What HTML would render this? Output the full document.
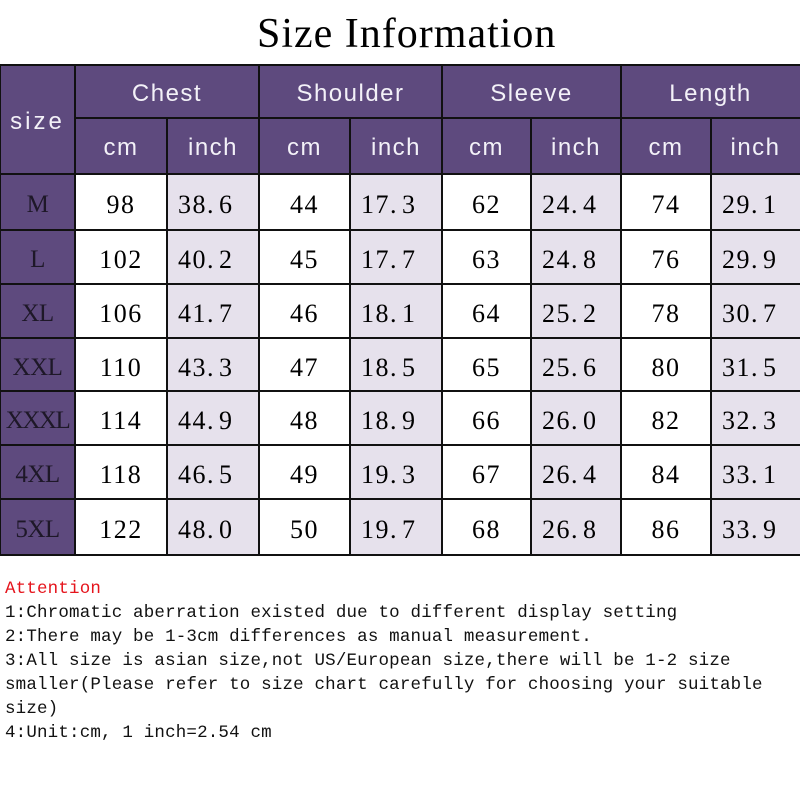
<!DOCTYPE html>
<html><head><meta charset="utf-8">
<style>
*{margin:0;padding:0;box-sizing:border-box}
html,body{width:800px;height:800px;background:#fff;overflow:hidden}
body{position:relative}
.c{position:absolute;display:flex;align-items:center}
.h{background:#5e4a7e;color:#f3f1f8;font-family:"Liberation Sans",sans-serif;font-size:24px;letter-spacing:1.5px;justify-content:center}
.s{background:#5e4a7e;color:#1e1828;font-family:"Liberation Serif",serif;font-size:25px;justify-content:center;letter-spacing:-0.5px}
.w{background:#fff;color:#000;font-family:"Liberation Serif",serif;font-size:26px;letter-spacing:1.5px;justify-content:center}
.g{background:#e6e1ec;color:#000;font-family:"Liberation Serif",serif;font-size:26px;letter-spacing:1.5px;justify-content:flex-start;padding-left:11px}
.c span.t{position:relative;top:3px}
.h span.t{top:2px}
.p{margin-right:4px}
.lh{position:absolute;height:2px;background:#111}
.lv{position:absolute;width:2px;background:#111}
.title{position:absolute;left:257px;top:9px;font-family:"Liberation Serif",serif;font-size:42px;line-height:50px;letter-spacing:1px;color:#000;white-space:nowrap}
.notes{position:absolute;left:5px;top:577px;font-family:"Liberation Mono",monospace;font-size:17.5px;line-height:24px;letter-spacing:0.17px;color:#111;white-space:pre}
.notes .r{color:#e5141c}
</style></head><body>
<div class="title">Size Information</div>

<!-- header -->
<div class="c h" style="left:0;top:65px;width:75px;height:109px"><span class="t" style="letter-spacing:3px">size</span></div>
<div class="c h" style="left:75px;top:65px;width:184px;height:53px"><span class="t">Chest</span></div>
<div class="c h" style="left:259px;top:65px;width:183px;height:53px"><span class="t">Shoulder</span></div>
<div class="c h" style="left:442px;top:65px;width:179px;height:53px"><span class="t">Sleeve</span></div>
<div class="c h" style="left:621px;top:65px;width:179px;height:53px"><span class="t">Length</span></div>

<div class="c h" style="left:75px;top:118px;width:92px;height:56px"><span class="t">cm</span></div>
<div class="c h" style="left:167px;top:118px;width:92px;height:56px"><span class="t">inch</span></div>
<div class="c h" style="left:259px;top:118px;width:91px;height:56px"><span class="t">cm</span></div>
<div class="c h" style="left:350px;top:118px;width:92px;height:56px"><span class="t">inch</span></div>
<div class="c h" style="left:442px;top:118px;width:89px;height:56px"><span class="t">cm</span></div>
<div class="c h" style="left:531px;top:118px;width:90px;height:56px"><span class="t">inch</span></div>
<div class="c h" style="left:621px;top:118px;width:90px;height:56px"><span class="t">cm</span></div>
<div class="c h" style="left:711px;top:118px;width:89px;height:56px"><span class="t">inch</span></div>

<!-- rows -->
<!-- M -->
<div class="c s" style="left:0;top:174px;width:75px;height:56px"><span class="t">M</span></div>
<div class="c w" style="left:75px;top:174px;width:92px;height:56px"><span class="t">98</span></div>
<div class="c g" style="left:167px;top:174px;width:92px;height:56px"><span class="t">38<span class="p">.</span>6</span></div>
<div class="c w" style="left:259px;top:174px;width:91px;height:56px"><span class="t">44</span></div>
<div class="c g" style="left:350px;top:174px;width:92px;height:56px"><span class="t">17<span class="p">.</span>3</span></div>
<div class="c w" style="left:442px;top:174px;width:89px;height:56px"><span class="t">62</span></div>
<div class="c g" style="left:531px;top:174px;width:90px;height:56px"><span class="t">24<span class="p">.</span>4</span></div>
<div class="c w" style="left:621px;top:174px;width:90px;height:56px"><span class="t">74</span></div>
<div class="c g" style="left:711px;top:174px;width:89px;height:56px"><span class="t">29<span class="p">.</span>1</span></div>
<!-- L -->
<div class="c s" style="left:0;top:230px;width:75px;height:54px"><span class="t">L</span></div>
<div class="c w" style="left:75px;top:230px;width:92px;height:54px"><span class="t">102</span></div>
<div class="c g" style="left:167px;top:230px;width:92px;height:54px"><span class="t">40<span class="p">.</span>2</span></div>
<div class="c w" style="left:259px;top:230px;width:91px;height:54px"><span class="t">45</span></div>
<div class="c g" style="left:350px;top:230px;width:92px;height:54px"><span class="t">17<span class="p">.</span>7</span></div>
<div class="c w" style="left:442px;top:230px;width:89px;height:54px"><span class="t">63</span></div>
<div class="c g" style="left:531px;top:230px;width:90px;height:54px"><span class="t">24<span class="p">.</span>8</span></div>
<div class="c w" style="left:621px;top:230px;width:90px;height:54px"><span class="t">76</span></div>
<div class="c g" style="left:711px;top:230px;width:89px;height:54px"><span class="t">29<span class="p">.</span>9</span></div>
<!-- XL -->
<div class="c s" style="left:0;top:284px;width:75px;height:54px"><span class="t">XL</span></div>
<div class="c w" style="left:75px;top:284px;width:92px;height:54px"><span class="t">106</span></div>
<div class="c g" style="left:167px;top:284px;width:92px;height:54px"><span class="t">41<span class="p">.</span>7</span></div>
<div class="c w" style="left:259px;top:284px;width:91px;height:54px"><span class="t">46</span></div>
<div class="c g" style="left:350px;top:284px;width:92px;height:54px"><span class="t">18<span class="p">.</span>1</span></div>
<div class="c w" style="left:442px;top:284px;width:89px;height:54px"><span class="t">64</span></div>
<div class="c g" style="left:531px;top:284px;width:90px;height:54px"><span class="t">25<span class="p">.</span>2</span></div>
<div class="c w" style="left:621px;top:284px;width:90px;height:54px"><span class="t">78</span></div>
<div class="c g" style="left:711px;top:284px;width:89px;height:54px"><span class="t">30<span class="p">.</span>7</span></div>
<!-- XXL -->
<div class="c s" style="left:0;top:338px;width:75px;height:53px"><span class="t">XXL</span></div>
<div class="c w" style="left:75px;top:338px;width:92px;height:53px"><span class="t">110</span></div>
<div class="c g" style="left:167px;top:338px;width:92px;height:53px"><span class="t">43<span class="p">.</span>3</span></div>
<div class="c w" style="left:259px;top:338px;width:91px;height:53px"><span class="t">47</span></div>
<div class="c g" style="left:350px;top:338px;width:92px;height:53px"><span class="t">18<span class="p">.</span>5</span></div>
<div class="c w" style="left:442px;top:338px;width:89px;height:53px"><span class="t">65</span></div>
<div class="c g" style="left:531px;top:338px;width:90px;height:53px"><span class="t">25<span class="p">.</span>6</span></div>
<div class="c w" style="left:621px;top:338px;width:90px;height:53px"><span class="t">80</span></div>
<div class="c g" style="left:711px;top:338px;width:89px;height:53px"><span class="t">31<span class="p">.</span>5</span></div>
<!-- XXXL -->
<div class="c s" style="left:0;top:391px;width:75px;height:54px"><span class="t" style="letter-spacing:-1.5px">XXXL</span></div>
<div class="c w" style="left:75px;top:391px;width:92px;height:54px"><span class="t">114</span></div>
<div class="c g" style="left:167px;top:391px;width:92px;height:54px"><span class="t">44<span class="p">.</span>9</span></div>
<div class="c w" style="left:259px;top:391px;width:91px;height:54px"><span class="t">48</span></div>
<div class="c g" style="left:350px;top:391px;width:92px;height:54px"><span class="t">18<span class="p">.</span>9</span></div>
<div class="c w" style="left:442px;top:391px;width:89px;height:54px"><span class="t">66</span></div>
<div class="c g" style="left:531px;top:391px;width:90px;height:54px"><span class="t">26<span class="p">.</span>0</span></div>
<div class="c w" style="left:621px;top:391px;width:90px;height:54px"><span class="t">82</span></div>
<div class="c g" style="left:711px;top:391px;width:89px;height:54px"><span class="t">32<span class="p">.</span>3</span></div>
<!-- 4XL -->
<div class="c s" style="left:0;top:445px;width:75px;height:54px"><span class="t">4XL</span></div>
<div class="c w" style="left:75px;top:445px;width:92px;height:54px"><span class="t">118</span></div>
<div class="c g" style="left:167px;top:445px;width:92px;height:54px"><span class="t">46<span class="p">.</span>5</span></div>
<div class="c w" style="left:259px;top:445px;width:91px;height:54px"><span class="t">49</span></div>
<div class="c g" style="left:350px;top:445px;width:92px;height:54px"><span class="t">19<span class="p">.</span>3</span></div>
<div class="c w" style="left:442px;top:445px;width:89px;height:54px"><span class="t">67</span></div>
<div class="c g" style="left:531px;top:445px;width:90px;height:54px"><span class="t">26<span class="p">.</span>4</span></div>
<div class="c w" style="left:621px;top:445px;width:90px;height:54px"><span class="t">84</span></div>
<div class="c g" style="left:711px;top:445px;width:89px;height:54px"><span class="t">33<span class="p">.</span>1</span></div>
<!-- 5XL -->
<div class="c s" style="left:0;top:499px;width:75px;height:56px"><span class="t">5XL</span></div>
<div class="c w" style="left:75px;top:499px;width:92px;height:56px"><span class="t">122</span></div>
<div class="c g" style="left:167px;top:499px;width:92px;height:56px"><span class="t">48<span class="p">.</span>0</span></div>
<div class="c w" style="left:259px;top:499px;width:91px;height:56px"><span class="t">50</span></div>
<div class="c g" style="left:350px;top:499px;width:92px;height:56px"><span class="t">19<span class="p">.</span>7</span></div>
<div class="c w" style="left:442px;top:499px;width:89px;height:56px"><span class="t">68</span></div>
<div class="c g" style="left:531px;top:499px;width:90px;height:56px"><span class="t">26<span class="p">.</span>8</span></div>
<div class="c w" style="left:621px;top:499px;width:90px;height:56px"><span class="t">86</span></div>
<div class="c g" style="left:711px;top:499px;width:89px;height:56px"><span class="t">33<span class="p">.</span>9</span></div>

<!-- grid lines -->
<div class="lh" style="left:0;width:800px;top:64px"></div>
<div class="lh" style="left:75px;width:725px;top:117px"></div>
<div class="lh" style="left:0;width:800px;top:173px"></div>
<div class="lh" style="left:0;width:800px;top:229px"></div>
<div class="lh" style="left:0;width:800px;top:283px"></div>
<div class="lh" style="left:0;width:800px;top:337px"></div>
<div class="lh" style="left:0;width:800px;top:390px"></div>
<div class="lh" style="left:0;width:800px;top:444px"></div>
<div class="lh" style="left:0;width:800px;top:498px"></div>
<div class="lh" style="left:0;width:800px;top:554px"></div>

<div class="lv" style="left:0;width:1px;top:64px;height:492px"></div>
<div class="lv" style="left:74px;top:64px;height:492px"></div>
<div class="lv" style="left:258px;top:64px;height:492px"></div>
<div class="lv" style="left:441px;top:64px;height:492px"></div>
<div class="lv" style="left:620px;top:64px;height:492px"></div>
<div class="lv" style="left:166px;top:117px;height:439px"></div>
<div class="lv" style="left:349px;top:117px;height:439px"></div>
<div class="lv" style="left:530px;top:117px;height:439px"></div>
<div class="lv" style="left:710px;top:117px;height:439px"></div>

<div class="notes"><span class="r">Attention</span>
1:Chromatic aberration existed due to different display setting
2:There may be 1-3cm differences as manual measurement.
3:All size is asian size,not US/European size,there will be 1-2 size
smaller(Please refer to size chart carefully for choosing your suitable
size)
4:Unit:cm, 1 inch=2.54 cm</div>
</body></html>
